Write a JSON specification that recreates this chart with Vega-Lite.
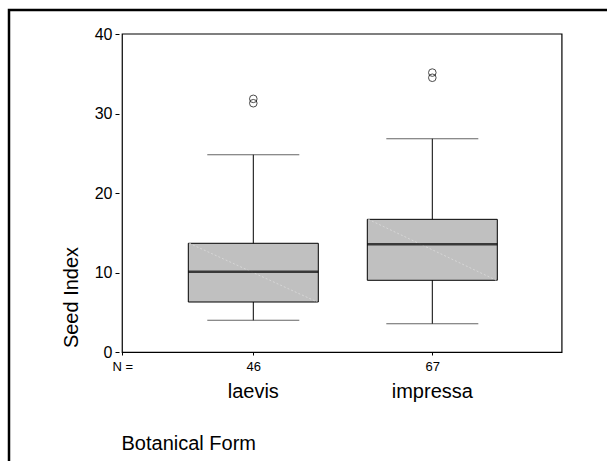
{
  "$schema": "https://vega.github.io/schema/vega-lite/v6.json",
  "autosize": "none",
  "width": 608,
  "height": 461,
  "padding": {"left": 9, "top": 10, "right": -10, "bottom": -10},
  "background": "white",
  "config": {
    "font": "Liberation Sans",
    "view": {"stroke": "black", "strokeWidth": 2.5, "fill": "white"}
  },
  "datasets": {
    "boxes": [
      {"form": "laevis", "order": 1, "n": 46, "lower": 4.02, "q1": 6.32, "median": 10.13, "q3": 13.7, "upper": 24.83},
      {"form": "impressa", "order": 2, "n": 67, "lower": 3.59, "q1": 9.05, "median": 13.57, "q3": 16.71, "upper": 26.84}
    ],
    "outliers": [
      {"form": "laevis", "order": 1, "value": 31.85},
      {"form": "laevis", "order": 1, "value": 31.3},
      {"form": "impressa", "order": 2, "value": 35.15},
      {"form": "impressa", "order": 2, "value": 34.5}
    ],
    "frame": [
      {"xmin": 0.268, "xmax": 2.724, "ymin": 0, "ymax": 40}
    ]
  },
  "encoding": {
    "x": {
      "type": "quantitative",
      "scale": {"domain": [-0.3368, 3.0038], "nice": false, "zero": false},
      "axis": {
        "orient": "bottom",
        "offset": -119,
        "domain": false,
        "grid": false,
        "values": [0.268, 1, 2],
        "labelExpr": "datum.value == 1 ? '46' : datum.value == 2 ? '67' : 'N ='",
        "labelFontSize": 13,
        "labelColor": "black",
        "labelPadding": 5,
        "tickSize": 3,
        "tickColor": "black",
        "labelFlush": false,
        "labelOverlap": false,
        "title": "Botanical Form",
        "titleFontSize": 20,
        "titleFontWeight": "normal",
        "titleColor": "black",
        "titleAnchor": "start",
        "titleAlign": "left",
        "titleBaseline": "middle",
        "titleX": 112,
        "titleY": 91
      }
    },
    "y": {
      "type": "quantitative",
      "scale": {"domain": [-14.916, 43.016], "nice": false, "zero": false},
      "axis": {
        "orient": "left",
        "offset": -110,
        "domain": false,
        "grid": false,
        "values": [0, 10, 20, 30, 40],
        "labelFontSize": 16,
        "labelColor": "black",
        "labelPadding": 3,
        "tickSize": 4,
        "tickColor": "black",
        "title": "Seed Index",
        "titleFontSize": 20,
        "titleFontWeight": "normal",
        "titleColor": "black",
        "titleAngle": -90,
        "titleAlign": "center",
        "titleBaseline": "alphabetic",
        "titleX": -42,
        "titleY": 287
      }
    }
  },
  "layer": [
    {
      "data": {"name": "frame"},
      "mark": {"type": "rect", "filled": false, "stroke": "black", "strokeWidth": 1.2},
      "encoding": {
        "x": {"field": "xmin"},
        "x2": {"field": "xmax"},
        "y": {"field": "ymin"},
        "y2": {"field": "ymax"}
      }
    },
    {
      "data": {"name": "boxes"},
      "mark": {"type": "rule", "color": "black", "strokeWidth": 1},
      "encoding": {
        "x": {"field": "order"},
        "y": {"field": "lower"},
        "y2": {"field": "upper"}
      }
    },
    {
      "data": {"name": "boxes"},
      "mark": {"type": "tick", "orient": "horizontal", "size": 92, "thickness": 1, "color": "#222"},
      "encoding": {
        "x": {"field": "order"},
        "y": {"field": "upper"}
      }
    },
    {
      "data": {"name": "boxes"},
      "mark": {"type": "tick", "orient": "horizontal", "size": 92, "thickness": 1, "color": "#222"},
      "encoding": {
        "x": {"field": "order"},
        "y": {"field": "lower"}
      }
    },
    {
      "data": {"name": "boxes"},
      "mark": {"type": "bar", "width": 130, "fill": "#c0c0c0", "stroke": "black", "strokeWidth": 1},
      "encoding": {
        "x": {"field": "order"},
        "y": {"field": "q1"},
        "y2": {"field": "q3"}
      }
    },
    {
      "data": {"name": "boxes"},
      "mark": {"type": "rule", "color": "#d6d6d6", "strokeWidth": 1, "strokeDash": [2, 2], "xOffset": -64, "x2Offset": 64},
      "encoding": {
        "x": {"field": "order"},
        "x2": {"field": "order"},
        "y": {"field": "q3"},
        "y2": {"field": "q1"}
      }
    },
    {
      "data": {"name": "boxes"},
      "mark": {"type": "tick", "orient": "horizontal", "size": 130, "thickness": 2.5, "color": "black"},
      "encoding": {
        "x": {"field": "order"},
        "y": {"field": "median"}
      }
    },
    {
      "data": {"name": "outliers"},
      "mark": {"type": "point", "shape": "circle", "filled": false, "size": 58, "stroke": "black", "strokeWidth": 1},
      "encoding": {
        "x": {"field": "order"},
        "y": {"field": "value"}
      }
    },
    {
      "data": {"name": "boxes"},
      "mark": {"type": "text", "fontSize": 20, "color": "black", "align": "center", "baseline": "middle"},
      "encoding": {
        "x": {"field": "order"},
        "y": {"datum": -5.0},
        "text": {"field": "form"}
      }
    }
  ]
}
